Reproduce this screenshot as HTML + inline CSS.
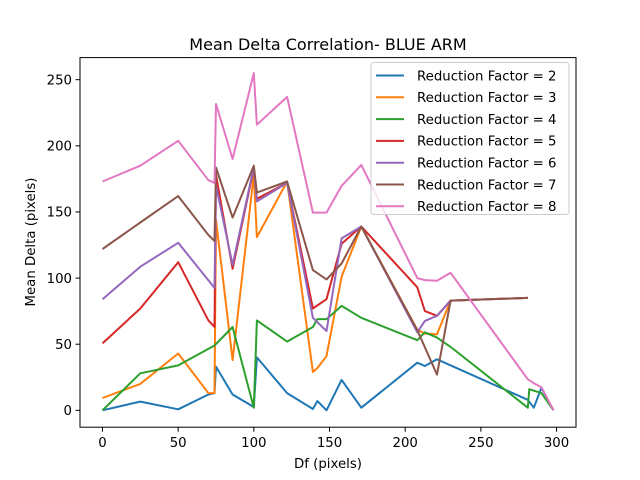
<!DOCTYPE html>
<html><head><meta charset="utf-8"><style>
body{margin:0;background:#fff}
svg{display:block;font-family:"DejaVu Sans","Liberation Sans",sans-serif}
</style></head><body>
<svg id="c" width="640" height="480"></svg>
<script>
const seriesNames=["Reduction Factor = 2","Reduction Factor = 3","Reduction Factor = 4","Reduction Factor = 5","Reduction Factor = 6","Reduction Factor = 7","Reduction Factor = 8"];
const colors=["#1f77b4","#ff7f0e","#2ca02c","#d62728","#9467bd","#8c564b","#e377c2"];
const xTicks=[0,50,100,150,200,250,300];
const yTicks=[0,50,100,150,200,250];
const s2x=[0,25,50,70,74,75,86,100,102,122,139,142,148,158,171,208,213,221,281,285,290,298];
const s2y=[0,6.6,0.8,12,13,33,12,2.5,40,13,1,7,0,23,2,36,33.5,38.6,8,2,17,0];
const s3x=[0,25,50,70,74,75,86,100,102,122,139,142,148,158,171,208,213,221,230,281];
const s3y=[9.3,20,43,13,13,144,38,178,131,173,29,32,41,101,139,61,58,57.5,83,85];
const s4x=[0,25,50,74,86,100,102,122,139,142,148,158,171,208,213,221,230,281,282,290,298];
const s4y=[0,28,34,49,63,2,68,52,63,69,69,79,70,53,59,55,48,2,16,13,0];
const s5x=[0,25,50,70,74,75,86,100,102,122,139,148,158,171,208,213,221,230,281];
const s5y=[50.6,77,112,68,63,178,107,183,160,172,77,84,126,139,93,75,71.5,83,85];
const s6x=[0,25,50,74,75,86,100,102,122,139,148,158,171,208,213,221,230,281];
const s6y=[84,108.6,126.7,92.6,170,110,184,158,172,70,60,130,139,59,67.6,71.5,83,85];
const s7x=[0,25,50,70,74,75,86,100,102,122,139,148,158,171,208,221,230,281];
const s7y=[122,142,162,132.6,128,183.6,145.7,185,164.6,173,106,99,111,139,60.6,27,83,85];
const s8x=[0,25,50,70,74,75,86,100,102,122,139,148,158,171,208,213,221,230,281,285,290,298];
const s8y=[173,185,203.8,174,172,231.6,190,255,216,237,149.5,149.5,169.7,185.6,100,98.5,98,104,23.5,20.5,17.5,0];
const allX=[s2x,s3x,s4x,s5x,s6x,s7x,s8x], allY=[s2y,s3y,s4y,s5y,s6y,s7y,s8y];
const L=80,R=576,T=57.6,B=427.2,xmin=-14.85,xmax=312.85,ymin=-12.75,ymax=266.7;
const X=v=>L+(v-xmin)/(xmax-xmin)*(R-L);
const Y=v=>B-(v-ymin)/(ymax-ymin)*(B-T);
const svg=document.getElementById('c');const NS="http://www.w3.org/2000/svg";
function mk(t,a,p){const e=document.createElementNS(NS,t);for(const k in a)e.setAttribute(k,a[k]);(p||svg).appendChild(e);return e;}
allX.forEach((xs,i)=>{
 const pts=xs.map((x,j)=>X(x).toFixed(1)+","+Y(allY[i][j]).toFixed(1)).join(" ");
 const pl=mk('polyline',{points:pts,fill:'none',stroke:colors[i],'stroke-width':2,'stroke-linejoin':'round'});
 
 
});
const fr=mk('rect',{x:L,y:T,width:R-L,height:B-T,fill:'none',stroke:'#000','stroke-width':1});


xTicks.forEach(v=>{
 mk('line',{x1:X(v),x2:X(v),y1:B,y2:B+4.5,stroke:'#000','stroke-width':1});
 const t=mk('text',{x:X(v),y:B+20,'text-anchor':'middle','font-size':13.3});t.textContent=v;
 
 
});
yTicks.forEach(v=>{
 mk('line',{x1:L-4.5,x2:L,y1:Y(v),y2:Y(v),stroke:'#000','stroke-width':1});
 const t=mk('text',{x:L-8,y:Y(v)+4.8,'text-anchor':'end','font-size':13.3});t.textContent=v;
 
 
});
let t=mk('text',{x:328,y:50,'text-anchor':'middle','font-size':16});t.textContent="Mean Delta Correlation- BLUE ARM";


t=mk('text',{x:328,y:468,'text-anchor':'middle','font-size':13.3});t.textContent="Df (pixels)";


t=mk('text',{x:35,y:242,'text-anchor':'middle','font-size':13.3,transform:'rotate(-90 35 242)'});t.textContent="Mean Delta (pixels)";


const lg=mk('g',{});


mk('rect',{x:371,y:62.5,width:198,height:152,rx:3,fill:'#fff','fill-opacity':0.8,stroke:'#ccc','stroke-width':1},lg);
seriesNames.forEach((n,i)=>{
 const y=75.5+i*21.8;
 mk('line',{x1:376,x2:404,y1:y,y2:y,stroke:colors[i],'stroke-width':2},lg);
 const tt=mk('text',{x:417,y:y+4.8,'font-size':13.3},lg);tt.textContent=n;
 
 
});
</script>
</body></html>
